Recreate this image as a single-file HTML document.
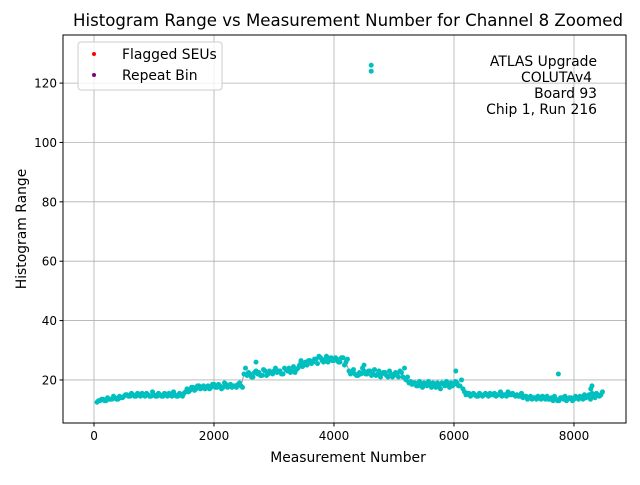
<!DOCTYPE html>
<html><head><meta charset="utf-8"><style>
body{margin:0;background:#fff;font-family:"Liberation Sans","DejaVu Sans",sans-serif}
svg text{font-family:"DejaVu Sans","Liberation Sans",sans-serif}
</style></head><body>
<svg id="chart" width="640" height="480" xmlns="http://www.w3.org/2000/svg">
<rect width="640" height="480" fill="#fff"/>
<text x="348" y="26" font-size="16.6" text-anchor="middle">Histogram Range vs Measurement Number for Channel 8 Zoomed</text>
<g id="grid"></g><g id="marks"></g><g id="axes"></g>
<rect x="63" y="35" width="563" height="388" fill="none" stroke="#000" stroke-width="1"/>
<g>
<rect x="78" y="42" width="144" height="48" rx="3" fill="#fff" fill-opacity="0.8" stroke="#ccc"/>
<circle cx="94" cy="54" r="2" fill="red"/>
<text x="122" y="59" font-size="13.9">Flagged SEUs</text>
<circle cx="94" cy="75" r="2" fill="purple"/>
<text x="122" y="80" font-size="13.9">Repeat Bin</text>
</g>
<g font-size="13.9" text-anchor="end">
<text x="597" y="66">ATLAS Upgrade</text><text x="592" y="82">COLUTAv4</text>
<text x="597" y="98">Board 93</text><text x="597" y="114">Chip 1, Run 216</text>
</g>
<text x="348" y="462" font-size="13.9" text-anchor="middle">Measurement Number</text>
<text transform="translate(26,229) rotate(-90)" font-size="13.9" text-anchor="middle">Histogram Range</text>
</svg>
<script>
const xTicks=[0,2000,4000,6000,8000];
const yTicks=[20,40,60,80,100,120];
const rangeValues=[12.5,13,13.5,13,13.5,13.5,14,13.5,14,14.5,
15,14.5,15,14.5,15,15.5,14.5,15,14.5,15,
14.5,15,14.5,15,15.5,14.5,15,14.5,15,15.5,
17,16.5,17.5,17,18,17.5,17,18,17.5,18.5,
17.5,18,17.5,18.5,18,17.5,18,18.5,18,22,
21.5,22,21,23,22.5,21.5,23,22,22.5,23,
22.5,23,22,23.5,24,23,22.5,24,26,25,
25,26.5,26,27,28,26.5,27,26,27.5,26.5,
27,26,27.5,26,23,22.5,22,21.5,22,23,
22,23,22,21.5,23,22,22.5,21,22,21.5,
22,23,21,20,19,18.5,19,18,18.5,19,
18,18.5,19,17.5,18,19,18,18.5,19,18.5,
19,18,17,15,15.5,15,15,14.5,15,15,
15,15.5,15,14.5,15,14.5,15,16,15,15,
15,14.5,14,14.5,14,13.5,14,14.5,13.5,14,
14.5,13.5,13,13.5,13,14,14.5,13.5,14,13.5,
14,14.5,13.5,14,15,15.5,14,15,15];
const rangeValuesB=[13,13.5,13,14,13.5,14.5,13.5,14.5,14,15,
14.5,15.5,14.5,15.5,14.5,15,15.5,14.5,16,14.5,
15.5,14.5,15.5,14.5,15,16,14.5,15.5,14.5,16,
16,17.5,16.5,18,17,18,17.5,17,18.5,17.5,
18.5,17,19,17.5,18.5,18,17.5,19,17.5,24,
22.5,21,22.5,22,21.5,23.5,21.5,23,22,24,
23,22,24,23,22.5,24.5,23.5,25,24.5,26,
26.5,25.5,27,25.5,27.5,26,28,27,26.5,27.5,
26,27.5,25,27,22,23.5,21.5,22.5,24,22,
23,21.5,23.5,22,21,22.5,21.5,23,21,22.5,
21,22.5,24,21,19.5,19,18,19.5,17.5,18.5,
19.5,17.5,18.5,19,17,18.5,19.5,17.5,18,19.5,
18,20,16,15.5,14.5,15.5,14.5,15.5,14.5,15.5,
14.5,15,15.5,15,16,15,14.5,15,15.5,14.5,
14.5,15.5,14.5,13.5,14.5,14,13.5,14,14.5,13.5,
13.5,14,14.5,13,14,13.5,13,14,13,14.5,
13.5,14,15,14.5,13.5,14.5,15.5,14.5,16];
const measStart=50, measStep=50, measOffsetB=25;
const outlierX=[4620,4620,7740,8280,8300,6030,2700,3450,4500];
const outlierY=[126,124,22,17,18,23,26,26.5,25];
const NS="http://www.w3.org/2000/svg";
const X0=-517,X1=8867,Y0=5.5,Y1=136.2,L=63,R=626,T=35,B=423;
const sx=v=>L+(v-X0)/(X1-X0)*(R-L);
const sy=v=>B-(v-Y0)/(Y1-Y0)*(B-T);
function mk(t,a,p){const e=document.createElementNS(NS,t);for(const k in a)e.setAttribute(k,a[k]);p.appendChild(e);return e;}
const grid=document.getElementById('grid'),axes=document.getElementById('axes'),marks=document.getElementById('marks');
xTicks.forEach(v=>{const x=sx(v);
const g=mk('line',{x1:x,x2:x,y1:T,y2:B,stroke:'#b0b0b0','stroke-width':0.8},grid);


const t=mk('line',{x1:x,x2:x,y1:B,y2:B+3.5,stroke:'#000'},axes);


const l=mk('text',{x:x,y:B+17,'font-size':12,'text-anchor':'middle'},axes);l.textContent=v;

});
yTicks.forEach(v=>{const y=sy(v);
const g=mk('line',{x1:L,x2:R,y1:y,y2:y,stroke:'#b0b0b0','stroke-width':0.8},grid);


const t=mk('line',{x1:L-3.5,x2:L,y1:y,y2:y,stroke:'#000'},axes);


const l=mk('text',{x:L-6,y:y+4.5,'font-size':12,'text-anchor':'end'},axes);l.textContent=v;

});
const pts=rangeValues.map((v,i)=>sx(measStart+i*measStep)+','+sy(v)).join(' ');
const pl=mk('polyline',{points:pts,fill:'none',stroke:'#999','stroke-width':1},marks);


rangeValues.forEach((v,i)=>{const c=mk('circle',{cx:sx(measStart+i*measStep),cy:sy(v),r:2.5,fill:'#00bfbf'},marks);

});
rangeValuesB.forEach((v,i)=>{const c=mk('circle',{cx:sx(measStart+measOffsetB+i*measStep),cy:sy(v),r:2.5,fill:'#00bfbf'},marks);

});
outlierX.forEach((x,i)=>{const c=mk('circle',{cx:sx(x),cy:sy(outlierY[i]),r:2.5,fill:'#00bfbf'},marks);

});
</script>
</body></html>
